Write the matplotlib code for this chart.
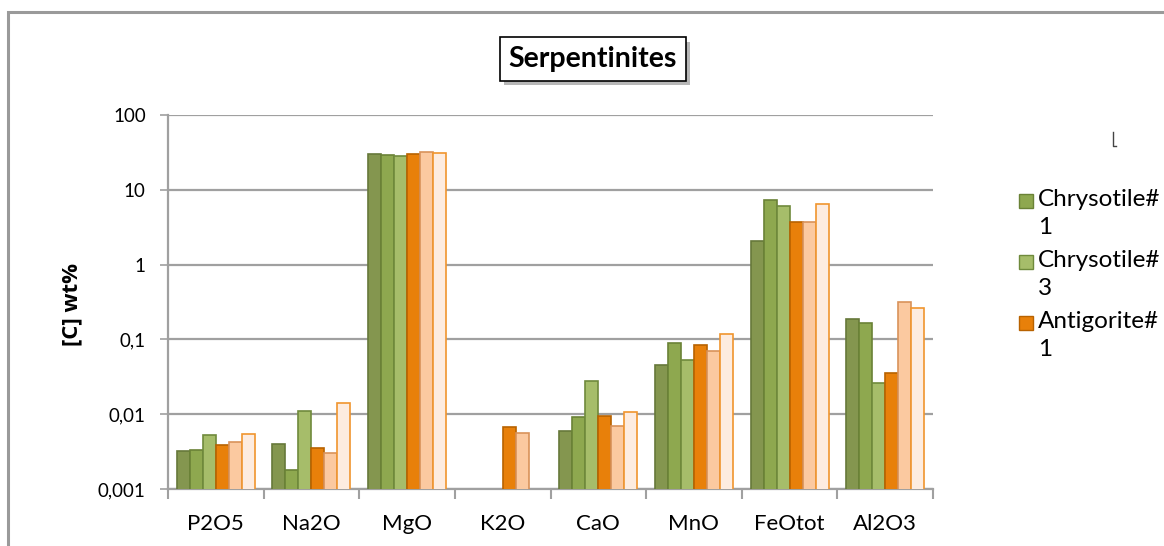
import numpy as np
import matplotlib
matplotlib.use("Agg")
import matplotlib.pyplot as plt
from matplotlib.patches import Rectangle
from matplotlib.lines import Line2D
import matplotlib.patheffects as pe

plt.rcParams['font.family'] = ['Lato', 'DejaVu Sans']

# Data (wt%)
oxides = ["P2O5", "Na2O", "MgO", "K2O", "CaO", "MnO", "FeOtot", "Al2O3"]
series_a = [0.00325, 0.0040, 29.8, np.nan, 0.0060, 0.045, 2.07, 0.189]
chrysotile_1 = [0.0033, 0.0018, 28.9, np.nan, 0.0093, 0.089, 7.2, 0.167]
chrysotile_3 = [0.0052, 0.011, 28.0, np.nan, 0.028, 0.053, 6.0, 0.0264]
antigorite_1 = [0.0039, 0.0035, 30.4, 0.0067, 0.0094, 0.084, 3.75, 0.036]
series_e = [0.0043, 0.0030, 31.7, 0.0056, 0.0069, 0.070, 3.75, 0.32]
series_f = [0.0055, 0.014, 30.7, np.nan, 0.0106, 0.119, 6.5, 0.265]

series = [series_a, chrysotile_1, chrysotile_3, antigorite_1, series_e, series_f]
faces = ["#84964f", "#8ea84f", "#a6bd6a", "#e8800a", "#fbc9a0", "#fdece0"]
edges = ["#66783a", "#6a8236", "#6f8a3c", "#b86200", "#d9925a", "#f0952e"]
legend_labels = ["Chrysotile#\n1", "Chrysotile#\n3", "Antigorite#\n1"]

fig = plt.figure(figsize=(11.64, 5.46), dpi=100)
ax = fig.add_axes([168/1164, 1 - 489/546, (933 - 168)/1164, (489 - 115)/546])

x = np.arange(len(oxides))
w = 0.136
for i, vals in enumerate(series):
    ax.bar(x + (i - 2.5) * w, vals, w, color=faces[i], edgecolor=edges[i],
           linewidth=1.2, zorder=3)

ax.set_yscale("log")
ax.set_ylim(0.001, 100)
ax.set_xlim(-0.5, len(oxides) - 0.5)
yt = [0.001, 0.01, 0.1, 1, 10, 100]
ax.set_yticks(yt)
ax.set_yticklabels(["0,001", "0,01", "0,1", "1", "10", "100"], fontsize=13.5)
ax.yaxis.set_minor_locator(matplotlib.ticker.NullLocator())
ax.set_xticks(x)
ax.set_xticklabels(oxides, fontsize=16)
ax.tick_params(axis="x", length=0, pad=18)
ax.set_xticks(np.arange(-0.5, len(oxides)), minor=True)
ax.tick_params(axis="x", which="minor", length=7, width=1.5, color="#a0a0a0")
ax.tick_params(axis="y", length=6, width=1.2, color="#a0a0a0", pad=10)
ax.grid(axis="y", color="#a0a0a0", linewidth=1.6, zorder=0)
for s in ["top", "right"]:
    ax.spines[s].set_visible(False)
for s in ["left", "bottom"]:
    ax.spines[s].set_color("#a0a0a0")
    ax.spines[s].set_linewidth(1.6)

fig.text(72/1164, 1 - 305/546, "[C] wt%", rotation=90, fontsize=16,
         fontweight="bold", family=["Open Sans", "DejaVu Sans"],
         ha="center", va="center")

# title with shadowed box
fig.text(593/1164, 1 - 59/546, "Serpentinites", fontsize=20.5, fontweight="bold",
         ha="center", va="center",
         bbox=dict(boxstyle="square,pad=0.3", fc="white", ec="black", lw=1.2,
                   path_effects=[pe.SimplePatchShadow(offset=(3, -3), alpha=0.4), pe.Normal()]))

# chart frame
fig.patches.append(Rectangle((8/1164, -0.1), 1.2, 1 - 12/546 + 0.1,
                             transform=fig.transFigure, fill=False,
                             ec="#9a9a9a", lw=2.2))

# legend (drawn by hand so the swatch sits by the first text line)
for k, lab in enumerate(legend_labels):
    top = 1 - (193 + k * 61) / 546
    fig.patches.append(Rectangle((1019/1164, top - 15/546), 14/1164, 14/546,
                                 transform=fig.transFigure, fc=faces[k + 1],
                                 ec=edges[k + 1], lw=1))
    fig.text(1038/1164, top + 4/546, lab, fontsize=17.5, ha="left", va="top",
             linespacing=1.4)

# small corner mark
fig.add_artist(Line2D([1113/1164, 1113/1164, 1116/1164], [1 - 132/546, 1 - 146/546, 1 - 146/546],
                      transform=fig.transFigure, color="#444444", lw=1))

fig.savefig("out.png", dpi=100)
